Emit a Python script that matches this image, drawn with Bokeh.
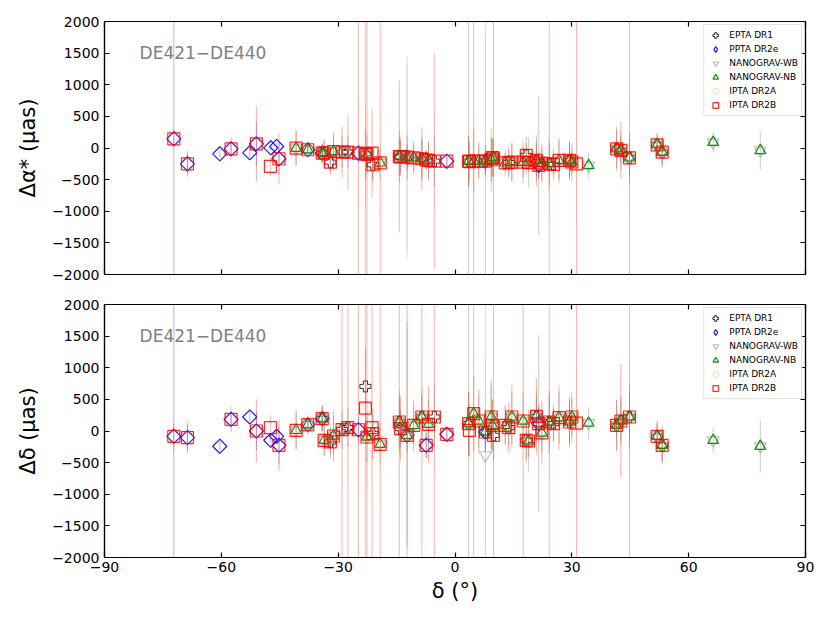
from bokeh.plotting import figure
from bokeh.models import (ColumnDataSource, LinearAxis, FixedTicker, Range1d,
                          Legend, LegendItem, Label)
from bokeh.layouts import column
from bokeh.embed import file_html
from bokeh.resources import INLINE

# ---------------- data ----------------
DEC = [-72.2, -68.7, -60.4, -57.5, -52.7, -51.0, -47.4, -47.3, -45.8, -45.2,
       -40.8, -37.8, -34.1, -33.6, -32.0, -31.2, -29.0, -27.5, -24.8, -23.0,
       -22.6, -21.3, -21.1, -19.2, -14.3, -14.0, -12.3, -10.6, -8.5, -7.4,
       -6.8, -5.3, -2.1, 3.5, 3.7, 4.8, 6.1, 7.8, 9.3, 9.6,
       9.9, 12.9, 13.8, 14.6, 17.5, 18.3, 18.9, 20.9, 21.5, 22.3,
       24.2, 25.3, 26.7, 29.4, 30.0, 31.2, 34.3, 41.5, 42.6, 44.8,
       51.9, 53.2, 66.3, 78.4]

DA = [145, -250, -92, -13, -76, 66, -292, 3, 24, -170,
      -3, -28, -82, -75, -224, -55, -66, -66, -82, -92,
      -100, -82, -265, -234, -134, -140, -145, -155, -170, -190,
      -197, -208, -208, -208, -215, -208, -208, -208, -186, -150,
      -160, -234, -230, -224, -224, -118, -230, -197, -276, -240,
      -250, -260, -197, -197, -220, -250, -276, -13, -39, -155,
      50, -66, 91, -39]

DD = [-84, -104, -241, 184, 221, 0, 53, -147, -84, -226,
      11, 100, 195, -147, -173, -79, 22, 53, 20, 363,
      -95, 53, -41, -210, 142, 38, -68, 90, 221, -226,
      106, 221, -52, 117, 11, 274, 158, -16, 221, 90,
      -68, 90, 53, 221, 158, -147, -158, 232, 117, -30,
      142, 117, 211, 142, 221, 126, 126, 90, 158, 221,
      -84, -226, -147, -241]

# membership (indices into DEC) and per-dataset errors
EPTA_IDX = [12, 14, 16, 17, 19, 22, 24, 25, 28, 31, 33, 37, 40, 42, 45, 47, 48,
            50, 51, 53, 57, 58, 59, 60, 61]
EPTA_DA_ERR = [150, 200, 250, 250, 400, 250, 300, 250, 300, 400, 3000, 250, 300,
               250, 300, 250, 1100, 300, 250, 300, 350, 300, 400, 200, 250]
EPTA_DD_ERR = [200, 250, 300, 300, 600, 300, 400, 300, 350, 500, 3000, 300, 400,
               300, 350, 300, 1400, 400, 300, 350, 400, 400, 500, 250, 300]
EPTA_DD_OUTLIER = {19: 705}

PPTA_IDX = [0, 1, 2, 3, 4, 5, 7, 8, 9, 11, 12, 18, 26, 29, 32, 37, 48]
PPTA_DA_ERR = [3000, 150, 60, 100, 80, 350, 40, 60, 250, 50, 100, 150, 200, 150,
               80, 150, 200]
PPTA_DD_ERR = [3000, 200, 80, 120, 100, 300, 50, 80, 300, 60, 120, 200, 250, 200,
               100, 200, 250]

NB_IDX = [10, 11, 12, 13, 15, 20, 23, 24, 26, 27, 28, 30, 33, 35, 36, 37, 38, 39,
          41, 43, 44, 46, 47, 49, 50, 52, 53, 54, 56, 57, 58, 59, 60, 61, 62, 63]
NB_DA_ERR = [280, 80, 150, 200, 250, 300, 250, 400, 1600, 200, 350, 300, 400, 500,
             300, 3000, 500, 300, 200, 300, 350, 400, 300, 250, 400, 300, 250, 300,
             200, 150, 200, 300, 150, 200, 150, 300]
NB_DD_ERR = [300, 100, 200, 250, 300, 400, 300, 500, 1800, 300, 450, 400, 500, 600,
             400, 3000, 600, 400, 300, 400, 450, 500, 400, 300, 500, 400, 300, 400,
             250, 200, 300, 400, 200, 250, 200, 400]

WB_IDX = NB_IDX
WB_DA_ERR = [250, 90, 160, 220, 260, 320, 240, 420, 1500, 220, 330, 280, 380, 480,
             320, 2000, 480, 320, 220, 280, 330, 380, 320, 260, 380, 320, 240, 320,
             220, 160, 220, 280, 160, 220, 160, 320]
WB_DD_ERR = [320, 110, 220, 240, 320, 380, 320, 480, 1700, 320, 430, 380, 480, 580,
             420, 1500, 580, 420, 320, 380, 430, 480, 420, 320, 480, 420, 320, 420,
             260, 220, 320, 380, 220, 260, 220, 420]
WB_DD_OUTLIER = {37: -383}

IPTA_B_IDX = [0, 1, 3, 5, 6, 9] + list(range(10, 56)) + [57, 58, 59, 60, 61]
IPTA_B_DA_ERR = [150, 200, 180, 600, 150, 400,
                 280, 120, 150, 200, 150, 300, 400, 600, 3000, 3000,
                 3000, 700, 250, 3000, 1200, 300, 350, 250, 500, 150,
                 300, 1700, 100, 400, 300, 3000, 250, 200, 350, 300,
                 3000, 150, 200, 300, 250, 200, 150, 400, 200, 300,
                 3000, 150, 350, 300, 200, 3000,
                 300, 450, 3000, 150, 200]
IPTA_B_DD_ERR = [200, 250, 200, 500, 200, 400,
                 300, 150, 200, 250, 200, 400, 3000, 3000, 3000, 3000,
                 3000, 3000, 400, 3000, 3000, 500, 3000, 400, 3000, 200,
                 600, 3000, 120, 500, 400, 3000, 500, 300, 500, 400,
                 3000, 300, 400, 500, 3000, 300, 250, 600, 300, 500,
                 3000, 250, 500, 400, 300, 3000,
                 400, 900, 3000, 200, 250]

IPTA_A_IDX = [0, 1, 3, 5, 9] + list(range(10, 56)) + [57, 58, 59, 60, 61]
IPTA_A_DA_ERR = [200, 250, 250, 550, 350,
                 300, 150, 200, 250, 200, 350, 450, 500, 900, 800,
                 700, 600, 300, 900, 600, 350, 400, 300, 500, 200,
                 350, 800, 150, 450, 350, 900, 300, 250, 400, 350,
                 900, 200, 250, 350, 300, 250, 200, 450, 250, 350,
                 800, 200, 400, 350, 250, 900,
                 350, 500, 900, 200, 250]
IPTA_A_DD_ERR = [250, 300, 300, 500, 400,
                 350, 200, 250, 300, 250, 450, 900, 900, 900, 900,
                 900, 900, 450, 900, 900, 550, 900, 450, 900, 250,
                 650, 900, 150, 550, 450, 900, 550, 350, 550, 450,
                 900, 350, 450, 550, 900, 350, 300, 650, 350, 550,
                 900, 300, 550, 450, 350, 900,
                 450, 900, 900, 250, 300]

LABELS = ["EPTA DR1", "PPTA DR2e", "NANOGRAV-WB", "NANOGRAV-NB",
          "IPTA DR2A", "IPTA DR2B"]
X_TICKS = [-90, -60, -30, 0, 30, 60, 90]
Y_TICKS = [-2000, -1500, -1000, -500, 0, 500, 1000, 1500, 2000]

DATASETS = [
    dict(label=LABELS[0], idx=EPTA_IDX, da_err=EPTA_DA_ERR, dd_err=EPTA_DD_ERR,
         da_out={}, dd_out=EPTA_DD_OUTLIER, marker="plus", size=11, angle=0,
         legend_marker="plus", color="black", m_alpha=0.8, e_alpha=0.22, lw=1.0),
    dict(label=LABELS[1], idx=PPTA_IDX, da_err=PPTA_DA_ERR, dd_err=PPTA_DD_ERR,
         da_out={}, dd_out={}, marker="square", size=10, angle=0.7854,
         legend_marker="diamond", color="blue", m_alpha=0.9, e_alpha=0.3, lw=1.2),
    dict(label=LABELS[2], idx=WB_IDX, da_err=WB_DA_ERR, dd_err=WB_DD_ERR,
         da_out={}, dd_out=WB_DD_OUTLIER, marker="inverted_triangle", size=12,
         angle=0, legend_marker="inverted_triangle", color="#b0b0b0", m_alpha=0.8,
         e_alpha=0.2, lw=1.2),
    dict(label=LABELS[3], idx=NB_IDX, da_err=NB_DA_ERR, dd_err=NB_DD_ERR,
         da_out={}, dd_out={}, marker="triangle", size=11, angle=0,
         legend_marker="triangle", color="green", m_alpha=0.9, e_alpha=0.2, lw=1.2),
    dict(label=LABELS[4], idx=IPTA_A_IDX, da_err=IPTA_A_DA_ERR, dd_err=IPTA_A_DD_ERR,
         da_out={}, dd_out={}, marker="circle", size=12, angle=0,
         legend_marker="circle", color="#ff9a30", m_alpha=0.3, e_alpha=0.1, lw=1.2),
    dict(label=LABELS[5], idx=IPTA_B_IDX, da_err=IPTA_B_DA_ERR, dd_err=IPTA_B_DD_ERR,
         da_out={}, dd_out={}, marker="square", size=12, angle=0,
         legend_marker="square", color="red", m_alpha=0.85, e_alpha=0.3, lw=1.2),
]

FONT = "DejaVu Sans"


def make_source(idx, vals, errs, outliers):
    xs = [DEC[i] for i in idx]
    ys = [outliers.get(i, vals[i]) for i in idx]
    lo = [y - e for y, e in zip(ys, errs)]
    hi = [y + e for y, e in zip(ys, errs)]
    return ColumnDataSource(dict(x=xs, y=ys, lo=lo, hi=hi))


def style_axis(ax, labels=True):
    ax.major_tick_in = 5
    ax.major_tick_out = 0
    ax.minor_tick_line_color = None
    ax.axis_line_color = "black"
    ax.axis_line_width = 1.2
    ax.major_tick_line_color = "black"
    ax.major_tick_line_width = 1.2
    ax.major_label_text_font = FONT
    if labels:
        ax.major_label_text_font_size = "14px"
        ax.major_label_text_color = "black"
    else:
        ax.major_label_text_font_size = "2px"
        ax.major_label_text_color = None
        ax.major_label_standoff = 0


def make_panel(vals, err_key, out_key, ylabel, bottom, x_range):
    p = figure(frame_width=701, frame_height=253, x_range=x_range,
               y_range=Range1d(-2000, 2000), output_backend="svg",
               toolbar_location=None, min_border_left=104, min_border_right=12,
               min_border_top=21 if not bottom else 16,
               min_border_bottom=14 if not bottom else 52)
    p.xgrid.visible = False
    p.ygrid.visible = False
    p.outline_line_color = "black"
    p.outline_line_width = 1.2
    p.background_fill_color = "white"
    p.border_fill_color = "white"

    p.xaxis.ticker = FixedTicker(ticks=X_TICKS)
    p.yaxis.ticker = FixedTicker(ticks=Y_TICKS)
    style_axis(p.xaxis[0], labels=bottom)
    style_axis(p.yaxis[0], labels=True)
    p.yaxis.major_label_standoff = 5
    p.yaxis.axis_label = ylabel
    p.yaxis.axis_label_text_font = FONT
    p.yaxis.axis_label_text_font_size = "21px"
    p.yaxis.axis_label_text_font_style = "normal"
    p.yaxis.axis_label_text_color = "black"
    p.yaxis.axis_label_standoff = 9
    if bottom:
        p.xaxis.major_label_standoff = 4
        p.xaxis.axis_label = "δ (°)"
        p.xaxis.axis_label_text_font = FONT
        p.xaxis.axis_label_text_font_size = "21px"
        p.xaxis.axis_label_text_font_style = "normal"
        p.xaxis.axis_label_text_color = "black"
        p.xaxis.axis_label_standoff = 4

    top_ax = LinearAxis(ticker=FixedTicker(ticks=X_TICKS))
    style_axis(top_ax, labels=False)
    p.add_layout(top_ax, "above")
    right_ax = LinearAxis(ticker=FixedTicker(ticks=Y_TICKS))
    style_axis(right_ax, labels=False)
    p.add_layout(right_ax, "right")

    items = []
    for ds in DATASETS:
        src = make_source(ds["idx"], vals, ds[err_key], ds[out_key])
        p.segment(x0="x", y0="lo", x1="x", y1="hi", source=src,
                  line_color=ds["color"], line_alpha=ds["e_alpha"], line_width=1)
        r = p.scatter(x="x", y="y", source=src, marker=ds["marker"], size=ds["size"],
                      angle=ds["angle"], line_color=ds["color"], line_alpha=ds["m_alpha"],
                      fill_color=None, line_width=ds["lw"])
        if ds["legend_marker"] != ds["marker"]:
            # legend-only glyph (hidden renderer on the same source)
            r = p.scatter(x="x", y="y", source=src,
                          marker=ds["legend_marker"], size=ds["size"],
                          line_color=ds["color"], line_alpha=ds["m_alpha"],
                          fill_color=None, line_width=ds["lw"])
            r.visible = False
        items.append(LegendItem(label=ds["label"], renderers=[r]))

    legend = Legend(items=items, location="top_right", label_text_font=FONT,
                    label_text_font_size="9px", label_text_color="black",
                    glyph_height=14, glyph_width=16,
                    label_height=12, spacing=0, padding=3, margin=3,
                    label_standoff=6, inactive_fill_alpha=0,
                    border_line_color="#cccccc", border_line_width=1,
                    background_fill_alpha=0.85)
    p.add_layout(legend)

    p.add_layout(Label(x=-81, y=1500, text="DE421−DE440", text_color="gray",
                       text_font=FONT, text_font_size="17px",
                       text_baseline="middle", text_align="left"))
    return p


xr = Range1d(-90, 90)
top = make_panel(DA, "da_err", "da_out", "Δα* (μas)", False, xr)
bot = make_panel(DD, "dd_err", "dd_out", "Δδ (μas)", True, xr)

layout = column(top, bot, spacing=0)
open("out.html", "w").write(file_html(layout, INLINE))
